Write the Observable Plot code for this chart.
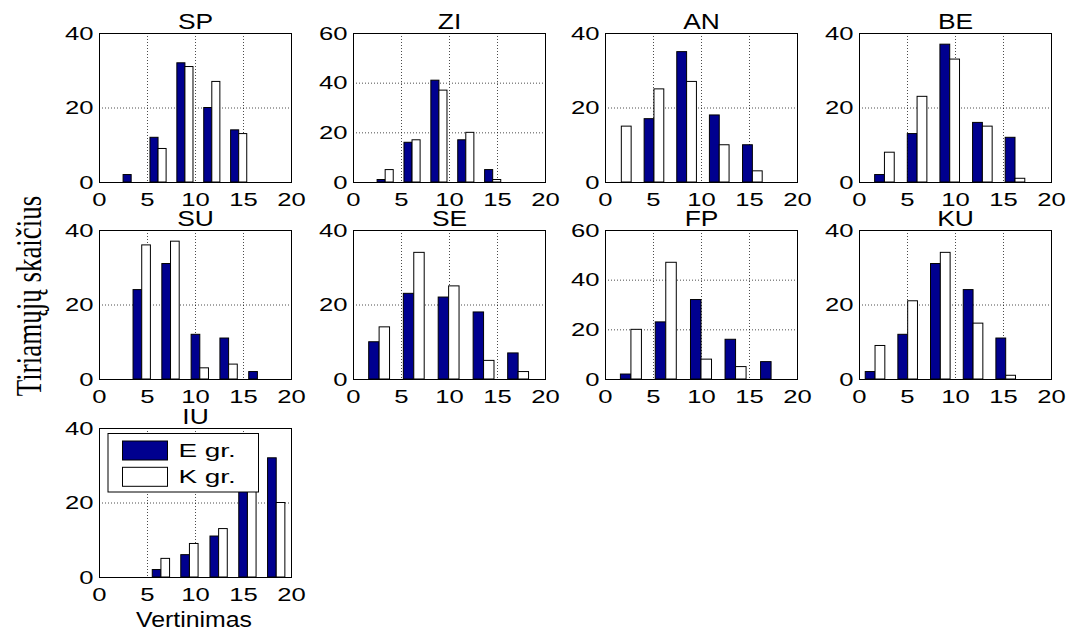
<!DOCTYPE html>
<html><head><meta charset="utf-8">
<script src="https://cdn.jsdelivr.net/npm/d3@7"></script>
<script src="https://cdn.jsdelivr.net/npm/@observablehq/plot@0.6"></script>
<style>
body{margin:0;background:#fff}
#fig{position:relative;width:1066px;height:630px;overflow:hidden;background:#fff;font-family:"Liberation Sans",Arial,Helvetica,sans-serif;color:#000}
.panel{position:absolute}
.panel svg{max-width:none !important}
#overlay{position:absolute;left:0;top:0;pointer-events:none}
</style></head><body><div id="fig"></div>
<script>
// ---- data ----
const panelNames = ["SP","ZI","AN","BE","SU","SE","FP","KU","IU"];
const binCenters = [
  [3.35, 6.15, 8.95, 11.75, 14.55],
  [3.35, 6.15, 8.95, 11.75, 14.55],
  [1.7, 5.1, 8.5, 11.9, 15.35],
  [2.65, 6.05, 9.45, 12.85, 16.25],
  [4.45, 7.45, 10.5, 13.5, 16.5],
  [2.72, 6.33, 9.96, 13.6, 17.2],
  [2.7, 6.33, 10.0, 13.6, 17.3],
  [1.67, 5.07, 8.47, 11.88, 15.28],
  [6.45, 9.42, 12.46, 15.46, 18.46]
];
const eCounts = [
  [2,12,32,20,14],
  [1,16,41,17,5],
  [0,17,35,18,10],
  [2,13,37,16,12],
  [24,31,12,11,2],
  [10,23,22,18,7],
  [2,23,32,16,7],
  [2,12,31,24,11],
  [2,6,11,29,32]
];
const kCounts = [
  [0,9,31,27,13],
  [5,17,37,20,1],
  [15,25,27,10,3],
  [8,23,33,15,1],
  [36,37,3,4,0],
  [14,34,25,5,2],
  [20,47,8,5,0],
  [9,21,34,15,1],
  [5,9,13,33,20]
];
const yMax = [40,60,40,40,40,40,60,40,40];
const xTicks = [0,5,10,15,20];
const yTicks40 = [0,20,40];
const yTicks60 = [0,20,40,60];
const groupLabels = ["E gr.","K gr."];
const groupColors = ["#00008F","#FFFFFF"];
const xLabel = "Vertinimas";
const yLabel = "Tiriamųjų skaičius";

// ---- layout ----
const fig = document.getElementById("fig");
const colLeft = [99, 352.7, 605.3, 859];
const rowTop = [33.3, 230, 428];
const innerW = 192, innerH = 149;
const mL = 50, mR = 20, mT = 36, mB = 32;

function stretch(svg, selector, s) {
  svg.querySelectorAll(selector).forEach(el => {
    const t = el.getAttribute("transform");
    if (t) el.setAttribute("transform", t + ` scale(${s},1)`);
    else {
      const x = el.getAttribute("x") || 0, y = el.getAttribute("y") || 0;
      el.removeAttribute("x"); el.removeAttribute("y");
      el.setAttribute("transform", `translate(${x},${y}) scale(${s},1)`);
    }
  });
}

panelNames.forEach((name, i) => {
  const c = i % 4, r = Math.floor(i / 4);
  const centers = binCenters[i];
  const step = (centers[4] - centers[0]) / 4;
  const w = 0.3 * step;
  const eData = centers.map((cx, j) => ({x1: cx - w, x2: cx, v: eCounts[i][j]}));
  const kData = centers.map((cx, j) => ({x1: cx, x2: cx + w, v: kCounts[i][j]}));
  const yt = yMax[i] === 60 ? yTicks60 : yTicks40;
  const grid = {stroke: "#000", strokeOpacity: 0.7, strokeDasharray: "1,2", strokeWidth: 1};
  const W = innerW + mL + mR, H = innerH + mT + mB;
  const svg = Plot.plot({
    width: W, height: H,
    marginLeft: mL, marginRight: mR, marginTop: mT, marginBottom: mB,
    style: {background: "transparent", overflow: "visible", maxWidth: "none", fontFamily: '"Liberation Sans", Arial, sans-serif', fontSize: "19px", color: "#000"},
    x: {domain: [0, 20], ticks: xTicks, tickSize: 0, tickPadding: 10, label: null},
    y: {domain: [0, yMax[i]], ticks: yt, tickSize: 0, tickPadding: 6, label: null},
    marks: [
      Plot.ruleX(xTicks.slice(1, -1), grid),
      Plot.ruleY(yt.slice(1, -1), grid),
      Plot.rectY(eData, {x1: "x1", x2: "x2", y1: 0, y2: "v", fill: groupColors[0], stroke: "#000", strokeWidth: 1}),
      Plot.rectY(kData, {x1: "x1", x2: "x2", y1: 0, y2: "v", fill: groupColors[1], stroke: "#000", strokeWidth: 1}),
      Plot.frame({stroke: "#000", strokeWidth: 1}),
      Plot.text([name], {frameAnchor: "top", lineAnchor: "middle", dy: -11.5, fontSize: 22, fill: "#000"})
    ]
  });
  stretch(svg, 'g[aria-label$="tick label"] text', 1.35);
  stretch(svg, 'g[aria-label="text"] text', 1.2);
  const div = document.createElement("div");
  div.className = "panel";
  div.style.left = (colLeft[c] - mL) + "px";
  div.style.top = (rowTop[r] - mT) + "px";
  div.style.width = W + "px";
  div.style.height = H + "px";
  div.appendChild(svg);
  fig.appendChild(div);
});

// overlay: legend (inside IU panel) and the shared axis labels
const ov = d3.select(fig).append("svg").attr("id", "overlay")
  .attr("width", 1066).attr("height", 630)
  .style("font-family", '"Liberation Sans", Arial, sans-serif');

const lg = ov.append("g");
lg.append("rect").attr("x", 108).attr("y", 433.5).attr("width", 150.5).attr("height", 58.5)
  .attr("fill", "#fff").attr("stroke", "#000").attr("stroke-width", 1);
groupLabels.forEach((lab, j) => {
  const cy = 450.5 + j * 26.3;
  lg.append("rect").attr("x", 122.5).attr("y", cy - 9.5).attr("width", 45).attr("height", 19)
    .attr("fill", groupColors[j]).attr("stroke", "#000").attr("stroke-width", 1);
  lg.append("text").text(lab)
    .attr("transform", `translate(178.5,${cy}) scale(1.5,1)`)
    .attr("dominant-baseline", "central")
    .attr("font-size", 18.6).attr("fill", "#000");
});

ov.append("text").text(xLabel)
  .attr("transform", "translate(194,620) scale(1.13,1)")
  .attr("text-anchor", "middle").attr("dominant-baseline", "central")
  .attr("font-size", 22).attr("fill", "#000");

ov.append("text").text(yLabel)
  .attr("transform", "translate(29,296) rotate(-90) scale(1,1.3)")
  .attr("text-anchor", "middle").attr("dominant-baseline", "central")
  .attr("font-family", '"Liberation Serif","Times New Roman",serif')
  .attr("font-size", 27).attr("fill", "#000");
</script></body></html>
